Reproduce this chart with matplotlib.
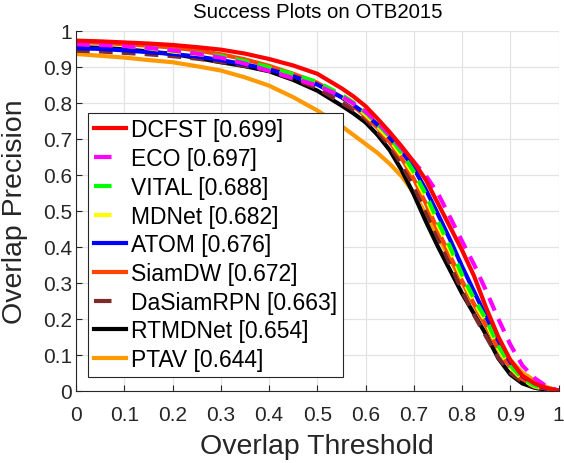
import matplotlib
matplotlib.use("Agg")
import matplotlib.pyplot as plt
from matplotlib.lines import Line2D
from matplotlib.ticker import FuncFormatter

plt.rcParams['font.family'] = ['Liberation Sans', 'DejaVu Sans']

thresholds = [0.0, 0.05, 0.1, 0.15, 0.2, 0.25, 0.3, 0.35, 0.4, 0.45, 0.5,
              0.55, 0.575, 0.6, 0.625, 0.65, 0.675, 0.7, 0.725, 0.75, 0.775,
              0.8, 0.825, 0.85, 0.875, 0.9, 0.925, 0.95, 0.975, 1.0]

dcfst = [0.972, 0.970, 0.967, 0.964, 0.960, 0.954, 0.947, 0.936, 0.921, 0.903, 0.880,
         0.840, 0.817, 0.790, 0.755, 0.718, 0.678, 0.635, 0.585, 0.520, 0.455,
         0.390, 0.318, 0.230, 0.150, 0.085, 0.041, 0.020, 0.007, 0.0]
eco = [0.962, 0.960, 0.957, 0.952, 0.945, 0.936, 0.925, 0.908, 0.888, 0.868, 0.847,
       0.818, 0.797, 0.775, 0.745, 0.710, 0.673, 0.635, 0.597, 0.548, 0.482,
       0.415, 0.350, 0.277, 0.200, 0.128, 0.070, 0.035, 0.012, 0.0]
vital = [0.965, 0.963, 0.960, 0.953, 0.944, 0.937, 0.929, 0.915, 0.898, 0.879, 0.857,
         0.822, 0.800, 0.772, 0.740, 0.705, 0.660, 0.608, 0.545, 0.470, 0.400,
         0.322, 0.255, 0.198, 0.125, 0.070, 0.034, 0.014, 0.004, 0.0]
mdnet = [0.963, 0.961, 0.958, 0.951, 0.942, 0.935, 0.927, 0.913, 0.896, 0.876, 0.853,
         0.818, 0.795, 0.767, 0.734, 0.698, 0.652, 0.600, 0.535, 0.460, 0.390,
         0.312, 0.246, 0.190, 0.118, 0.065, 0.031, 0.012, 0.004, 0.0]
atom = [0.951, 0.949, 0.945, 0.940, 0.935, 0.928, 0.918, 0.906, 0.892, 0.873, 0.850,
        0.815, 0.793, 0.769, 0.738, 0.703, 0.665, 0.618, 0.558, 0.490, 0.420,
        0.345, 0.275, 0.205, 0.140, 0.080, 0.040, 0.018, 0.006, 0.0]
siamdw = [0.968, 0.966, 0.962, 0.958, 0.953, 0.945, 0.934, 0.920, 0.902, 0.880, 0.855,
          0.815, 0.790, 0.762, 0.730, 0.690, 0.645, 0.588, 0.520, 0.445, 0.375,
          0.305, 0.240, 0.180, 0.115, 0.065, 0.032, 0.014, 0.005, 0.0]
dasiamrpn = [0.944, 0.942, 0.938, 0.934, 0.929, 0.922, 0.913, 0.902, 0.888, 0.866, 0.840,
             0.800, 0.780, 0.755, 0.720, 0.680, 0.628, 0.567, 0.497, 0.425, 0.352,
             0.278, 0.210, 0.150, 0.092, 0.050, 0.024, 0.010, 0.003, 0.0]
rtmdnet = [0.954, 0.952, 0.948, 0.942, 0.935, 0.924, 0.912, 0.901, 0.887, 0.863, 0.833,
           0.792, 0.770, 0.745, 0.710, 0.668, 0.612, 0.545, 0.470, 0.400, 0.335,
           0.270, 0.213, 0.155, 0.090, 0.045, 0.020, 0.008, 0.002, 0.0]
ptav = [0.935, 0.930, 0.925, 0.918, 0.912, 0.901, 0.889, 0.870, 0.847, 0.815, 0.778,
        0.735, 0.710, 0.685, 0.660, 0.630, 0.595, 0.550, 0.490, 0.430, 0.365,
        0.300, 0.238, 0.180, 0.130, 0.085, 0.050, 0.028, 0.010, 0.0]

names = ['DCFST [0.699]', 'ECO [0.697]', 'VITAL [0.688]', 'MDNet [0.682]', 'ATOM [0.676]',
         'SiamDW [0.672]', 'DaSiamRPN [0.663]', 'RTMDNet [0.654]', 'PTAV [0.644]']
series = [dcfst, eco, vital, mdnet, atom, siamdw, dasiamrpn, rtmdnet, ptav]
colors = ['#ff0000', '#ff00ff', '#00ff00', '#ffff00', '#0000ff',
          '#ff4500', '#7f2a2a', '#000000', '#ff9900']
styles = ['-', '--', '--', '--', '-', '-', '--', '-', '-']

fig = plt.figure(figsize=(5.64, 4.64), dpi=100)
ax = fig.add_axes([0.1348, 0.156, 0.8555, 0.776])

# draw last method first so DCFST ends up on top
for i in reversed(range(len(series))):
    kw = dict(dashes=(3.3, 2.2)) if styles[i] == '--' else {}
    ax.plot(thresholds, series[i], color=colors[i], lw=3,
            linestyle=styles[i], **kw)

# legend handles: matlab shows just a single dash for dashed lines
handles = []
for c, ls in zip(colors, styles):
    kw = dict(dashes=(4.2, 12)) if ls == '--' else {}
    handles.append(Line2D([], [], color=c, lw=3, linestyle=ls, **kw))

ax.set_xlim(0, 1)
ax.set_ylim(0, 1)
ticks = [i / 10 for i in range(11)]
ax.set_xticks(ticks)
ax.set_yticks(ticks)
fmt = FuncFormatter(lambda v, p: '%g' % v)
ax.xaxis.set_major_formatter(fmt)
ax.yaxis.set_major_formatter(fmt)
ax.tick_params(direction='in', length=4, labelsize=15, colors='#262626', width=0.8)
ax.tick_params(axis='x', pad=10)
ax.tick_params(axis='y', pad=3)
ax.grid(True, color='#e3e3e3', lw=0.9)
ax.set_axisbelow(True)
for s in ['top', 'right']:
    ax.spines[s].set_visible(False)
for s in ['left', 'bottom']:
    ax.spines[s].set_color('#262626')
    ax.spines[s].set_linewidth(0.8)

ax.set_xlabel('Overlap Threshold', fontsize=20.5, color='#262626')
ax.set_ylabel('Overlap Precision', fontsize=20.5, color='#262626')
ax.xaxis.set_label_coords(0.5, -0.118)
ax.yaxis.set_label_coords(-0.099, 0.5)
ax.set_title('Success Plots on OTB2015', fontsize=14.7, color='#000000', pad=9.5)

leg = ax.legend(handles, names, loc='lower left', bbox_to_anchor=(0.0247, 0.038),
                borderaxespad=0, fontsize=16.5, handlelength=1.4, handletextpad=0.22,
                labelspacing=0.25, borderpad=0.25, fancybox=False, framealpha=1,
                edgecolor='#262626')
leg.get_frame().set_linewidth(0.8)

fig.savefig('out.png', dpi=100)
